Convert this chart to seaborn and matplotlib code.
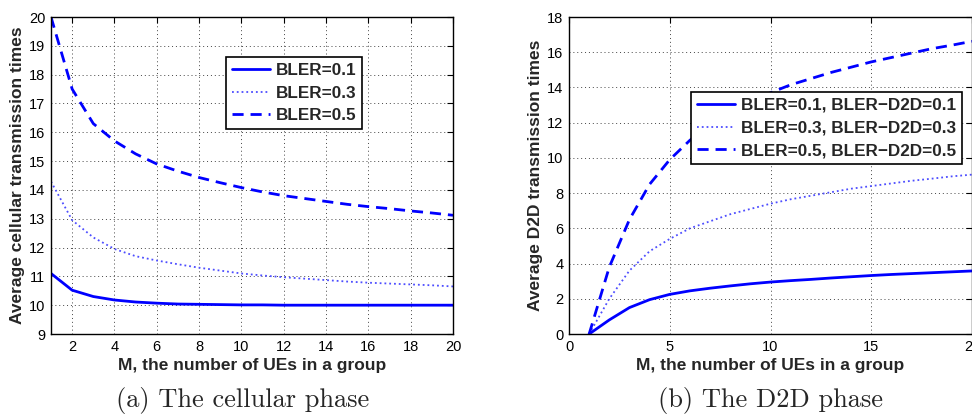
import matplotlib
matplotlib.use("Agg")
import matplotlib.pyplot as plt
import seaborn as sns
import pandas as pd
import numpy as np

M = list(range(1, 21))

cell_01 = [11.1, 10.52, 10.3, 10.18, 10.11, 10.07, 10.04, 10.03, 10.02, 10.01,
           10.01, 10.0, 10.0, 10.0, 10.0, 10.0, 10.0, 10.0, 10.0, 10.0]
cell_03 = [14.29, 12.95, 12.35, 11.95, 11.7, 11.55, 11.42, 11.3, 11.2, 11.1,
           11.03, 10.97, 10.92, 10.87, 10.82, 10.78, 10.75, 10.72, 10.69, 10.65]
cell_05 = [20.0, 17.5, 16.3, 15.7, 15.25, 14.9, 14.65, 14.43, 14.25, 14.08,
           13.93, 13.8, 13.7, 13.6, 13.5, 13.42, 13.35, 13.27, 13.2, 13.12]

d2d_01 = [0.0, 0.8, 1.5, 1.95, 2.25, 2.45, 2.6, 2.73, 2.85, 2.95,
          3.03, 3.1, 3.18, 3.25, 3.32, 3.38, 3.43, 3.48, 3.53, 3.58]
d2d_03 = [0.0, 2.0, 3.6, 4.7, 5.4, 6.0, 6.4, 6.8, 7.1, 7.4,
          7.65, 7.85, 8.05, 8.25, 8.4, 8.55, 8.7, 8.82, 8.95, 9.05]
d2d_05 = [0.0, 3.8, 6.5, 8.5, 9.9, 11.0, 11.9, 12.6, 13.2, 13.7,
          14.15, 14.5, 14.85, 15.15, 15.45, 15.7, 15.95, 16.2, 16.4, 16.62]

cell_labels = ["BLER=0.1", "BLER=0.3", "BLER=0.5"]
d2d_labels = ["BLER=0.1, BLER\u2212D2D=0.1", "BLER=0.3, BLER\u2212D2D=0.3",
              "BLER=0.5, BLER\u2212D2D=0.5"]

sns.set_style("white")
plt.rcParams['font.family'] = ['Liberation Sans', 'DejaVu Sans']

fig = plt.figure(figsize=(9.72, 4.16), dpi=100)
W, H = 972, 416
axL = fig.add_axes([51 / W, 1 - 334 / H, (453 - 51) / W, (334 - 17) / H])
axR = fig.add_axes([569 / W, 1 - 334 / H, (972 - 569) / W, (334 - 17) / H])

styles = [dict(ls='-', lw=2.0), dict(ls=':', lw=1.3, color=(0.3, 0.3, 1.0)),
          dict(ls='--', lw=2.0, dashes=(4, 2.5))]

def draw(ax, series, labels):
    for vals, lab, st in zip(series, labels, styles):
        df = pd.DataFrame({"M": M, "v": vals})
        kw = dict(st)
        dashes = kw.pop('dashes', None)
        col = kw.pop('color', (0, 0, 1))
        sns.lineplot(data=df, x="M", y="v", ax=ax, color=col,
                     label=lab, linestyle=kw['ls'], linewidth=kw['lw'])
        if dashes is not None:
            ax.get_lines()[-1].set_dashes(dashes)
    ax.grid(True, color='#444444', linestyle=(0, (1, 3)), linewidth=0.7)
    for s in ax.spines.values():
        s.set_color('black')
        s.set_linewidth(1.0)
    ax.tick_params(direction='in', top=True, right=True, length=4, width=0.8,
                   labelsize=10.5, pad=4, colors='black')
    ax.set_xlabel("M, the number of UEs in a group", fontsize=12.5, fontweight='bold', labelpad=3)

ax_left = {axL: 51, axR: 569}

def legend(ax, x0, y0, axw):
    leg = ax.legend(loc='upper left', bbox_to_anchor=((x0 - ax_left[ax]) / axw, 1 - (y0 - 17) / 317),
                    prop=dict(size=12.3, weight='bold'), frameon=True, fancybox=False,
                    edgecolor='black', handlelength=2.2, handletextpad=0.35, borderpad=0.35,
                    labelspacing=0.45, borderaxespad=0)
    leg.get_frame().set_linewidth(1.2)
    leg.get_frame().set_alpha(1)
    leg.get_frame().set_facecolor('white')
    return leg

draw(axL, [cell_01, cell_03, cell_05], cell_labels)
axL.set_xlim(1, 20)
axL.set_ylim(9, 20)
axL.set_xticks(range(2, 21, 2))
axL.set_yticks(range(9, 21))
axL.set_ylabel("Average cellular transmission times", fontsize=12.5, fontweight='bold', labelpad=3)

draw(axR, [d2d_01, d2d_03, d2d_05], d2d_labels)
axR.set_xlim(0, 20)
axR.set_ylim(0, 18)
axR.set_xticks(range(0, 21, 5))
axR.set_yticks(range(0, 19, 2))
axR.set_ylabel("Average D2D transmission times", fontsize=12.5, fontweight='bold', labelpad=3)

legend(axL, 226, 57, 402)
legend(axR, 691, 92, 403)

fig.text(243 / W, 1 - 400 / H, "(a) The cellular phase", fontfamily='cmr10', fontsize=19,
         ha='center', va='center')
fig.text(770 / W, 1 - 400 / H, "(b) The D2D phase", fontfamily='cmr10', fontsize=19,
         ha='center', va='center')

fig.savefig("out.png", dpi=100)
